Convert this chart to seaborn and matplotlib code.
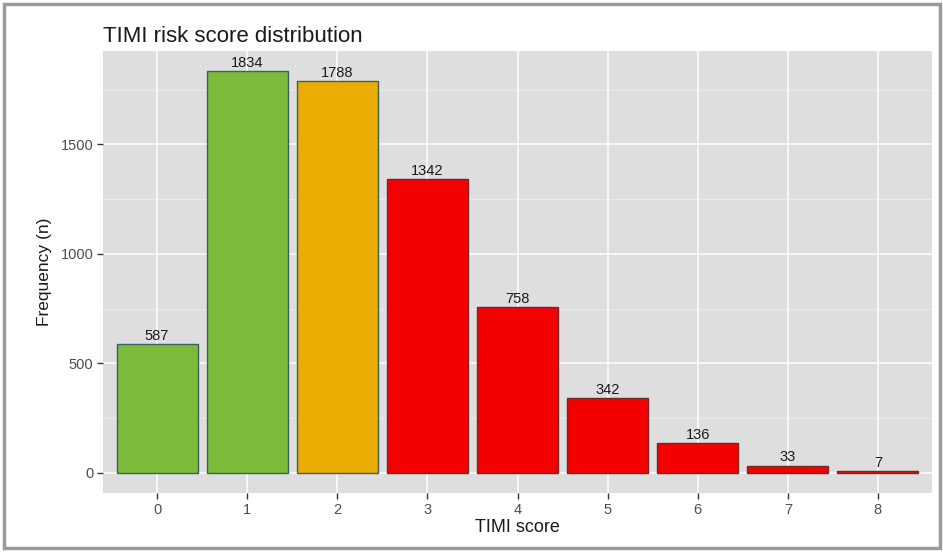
import matplotlib
matplotlib.use("Agg")
import matplotlib.pyplot as plt
import pandas as pd
import seaborn as sns
from matplotlib.patches import Rectangle

# data
scores = ["0", "1", "2", "3", "4", "5", "6", "7", "8"]
counts = [587, 1834, 1788, 1342, 758, 342, 136, 33, 7]
colors = ["#7cba3a", "#7cba3a", "#e9ac00", "#f50000", "#f50000",
          "#f50000", "#f50000", "#f50000", "#f50000"]
edges = ["#3a6060", "#3a6060", "#3a6060", "#6e2a2a", "#6e2a2a",
         "#6e2a2a", "#6e2a2a", "#6e2a2a", "#6e2a2a"]

df = pd.DataFrame({"score": scores, "n": counts})

sns.set_theme(style="darkgrid")
plt.rcParams["font.family"] = ["Liberation Sans", "DejaVu Sans"]

fig = plt.figure(figsize=(9.43, 5.52), dpi=100)
ax = fig.add_axes([103 / 943, 1 - 493 / 552, (932 - 103) / 943, (493 - 51) / 552])

sns.barplot(data=df, x="score", y="n", hue="score", palette=colors,
            width=0.9, linewidth=1.0, legend=False, ax=ax, saturation=1)
for bar, ec in zip(ax.patches, edges):
    bar.set_edgecolor(ec)

ax.set_facecolor("#dedede")
ax.set_xlim(-0.6, 8.6)
ax.set_ylim(-92, 1926)
ax.set_yticks([0, 500, 1000, 1500])
ax.set_yticks([250, 750, 1250, 1750], minor=True)
ax.grid(which="major", color="white", linewidth=1.1)
ax.grid(which="minor", axis="y", color="#f2f2f2", linewidth=0.5)
ax.set_axisbelow(True)
for s in ax.spines.values():
    s.set_visible(False)

ax.tick_params(axis="both", which="major", length=4, width=1, color="#333333",
               labelsize=10.5, labelcolor="#4d4d4d", pad=3, bottom=True, left=True)
ax.tick_params(which="minor", length=0)

for i, v in enumerate(counts):
    ax.text(i, v + 6, str(v), ha="center", va="bottom", fontsize=10.5, color="#1a1a1a")

ax.set_xlabel("TIMI score", fontsize=13, color="#1a1a1a", labelpad=2)
ax.set_ylabel("Frequency (n)", fontsize=12.5, color="#1a1a1a", labelpad=6)
fig.text(103 / 943, 1 - 42 / 552, "TIMI risk score distribution", fontsize=16,
         color="#1a1a1a", ha="left", va="baseline")

# grey frame around the whole picture
fig.patches.append(Rectangle((4 / 943, 4 / 552), 936 / 943, 544 / 552,
                             transform=fig.transFigure, fill=False,
                             edgecolor="#9a9a9a", linewidth=2.5))

fig.savefig("out.png", dpi=100, facecolor="white")
